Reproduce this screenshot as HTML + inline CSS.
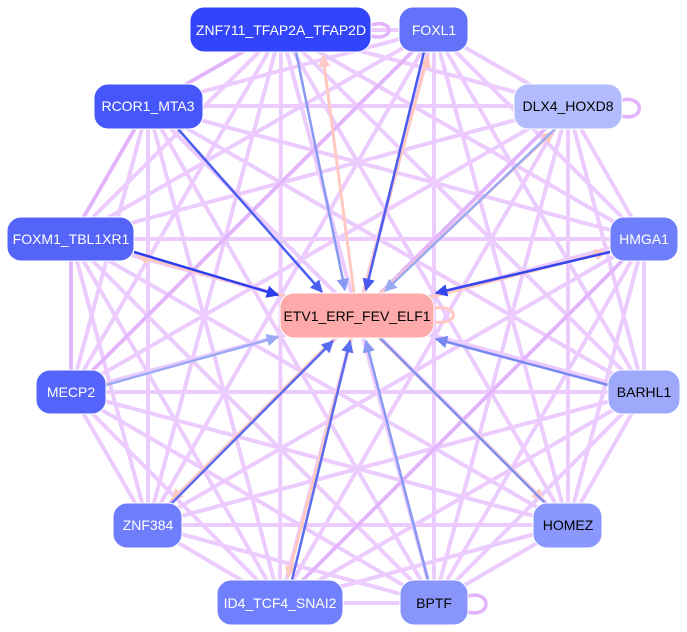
<!DOCTYPE html>
<html><head><meta charset="utf-8"><style>
body{margin:0;background:#fff;width:687px;height:632px;overflow:hidden}
svg{display:block}
text{font-family:"Liberation Sans",sans-serif;font-size:14px;text-anchor:middle;dominant-baseline:central}
</style></head><body>
<svg width="687" height="632" viewBox="0 0 687 632">
<defs>
<marker id="ab" viewBox="0 0 10 10" refX="9" refY="5" markerWidth="5" markerHeight="5" orient="auto" markerUnits="strokeWidth"><path d="M0 0L10 5L0 10z" fill="context-stroke"/></marker>
<marker id="ap" viewBox="0 0 10 10" refX="9" refY="5" markerWidth="4" markerHeight="4" orient="auto" markerUnits="strokeWidth"><path d="M0 0L10 5L0 10z" fill="#ffc8c0"/></marker>
</defs>
<g stroke="#eccbff" stroke-width="4" fill="none" stroke-linecap="round">
<line x1="281" y1="30" x2="434" y2="30"/><line x1="281" y1="30" x2="148" y2="106"/><line x1="281" y1="30" x2="568" y2="106"/><line x1="281" y1="30" x2="71" y2="239"/><line x1="281" y1="30" x2="644" y2="239"/><line x1="281" y1="30" x2="71" y2="392"/><line x1="281" y1="30" x2="644" y2="392"/><line x1="281" y1="30" x2="148" y2="525"/><line x1="281" y1="30" x2="568" y2="525"/><line x1="281" y1="30" x2="280" y2="603"/><line x1="281" y1="30" x2="434" y2="603"/>
<line x1="434" y1="30" x2="148" y2="106"/><line x1="434" y1="30" x2="568" y2="106"/><line x1="434" y1="30" x2="71" y2="239"/><line x1="434" y1="30" x2="644" y2="239"/><line x1="434" y1="30" x2="71" y2="392"/><line x1="434" y1="30" x2="644" y2="392"/><line x1="434" y1="30" x2="148" y2="525"/><line x1="434" y1="30" x2="568" y2="525"/><line x1="434" y1="30" x2="280" y2="603"/><line x1="434" y1="30" x2="434" y2="603"/>
<line x1="148" y1="106" x2="568" y2="106"/><line x1="148" y1="106" x2="71" y2="239"/><line x1="148" y1="106" x2="644" y2="239"/><line x1="148" y1="106" x2="71" y2="392"/><line x1="148" y1="106" x2="644" y2="392"/><line x1="148" y1="106" x2="148" y2="525"/><line x1="148" y1="106" x2="568" y2="525"/><line x1="148" y1="106" x2="280" y2="603"/><line x1="148" y1="106" x2="434" y2="603"/>
<line x1="568" y1="106" x2="71" y2="239"/><line x1="568" y1="106" x2="644" y2="239"/><line x1="568" y1="106" x2="71" y2="392"/><line x1="568" y1="106" x2="644" y2="392"/><line x1="568" y1="106" x2="148" y2="525"/><line x1="568" y1="106" x2="568" y2="525"/><line x1="568" y1="106" x2="280" y2="603"/><line x1="568" y1="106" x2="434" y2="603"/>
<line x1="71" y1="239" x2="644" y2="239"/><line x1="71" y1="239" x2="71" y2="392"/><line x1="71" y1="239" x2="644" y2="392"/><line x1="71" y1="239" x2="148" y2="525"/><line x1="71" y1="239" x2="568" y2="525"/><line x1="71" y1="239" x2="280" y2="603"/><line x1="71" y1="239" x2="434" y2="603"/>
<line x1="644" y1="239" x2="71" y2="392"/><line x1="644" y1="239" x2="644" y2="392"/><line x1="644" y1="239" x2="148" y2="525"/><line x1="644" y1="239" x2="568" y2="525"/><line x1="644" y1="239" x2="280" y2="603"/><line x1="644" y1="239" x2="434" y2="603"/>
<line x1="71" y1="392" x2="644" y2="392"/><line x1="71" y1="392" x2="148" y2="525"/><line x1="71" y1="392" x2="568" y2="525"/><line x1="71" y1="392" x2="280" y2="603"/><line x1="71" y1="392" x2="434" y2="603"/>
<line x1="644" y1="392" x2="148" y2="525"/><line x1="644" y1="392" x2="568" y2="525"/><line x1="644" y1="392" x2="280" y2="603"/><line x1="644" y1="392" x2="434" y2="603"/>
<line x1="148" y1="525" x2="568" y2="525"/><line x1="148" y1="525" x2="280" y2="603"/><line x1="148" y1="525" x2="434" y2="603"/>
<line x1="568" y1="525" x2="280" y2="603"/><line x1="568" y1="525" x2="434" y2="603"/>
<line x1="280" y1="603" x2="434" y2="603"/>
</g>
<g stroke="#e2b4fb" stroke-width="3.5" fill="none">
<line x1="148" y1="106" x2="71" y2="239"/><line x1="71" y1="239" x2="71" y2="392"/><line x1="434" y1="30" x2="71" y2="392"/><line x1="568" y1="106" x2="148" y2="525"/><line x1="644" y1="239" x2="280" y2="603"/><line x1="281" y1="30" x2="148" y2="106"/>
<path d="M371 25 C395 18 395 42 371 36"/><path d="M622 100 C645 95 645 122 622 116"/><path d="M468 596 C492 590 492 618 468 612"/>
</g>
<g stroke="#ffc8c0" stroke-width="3" fill="none">
<line x1="357" y1="316" x2="323" y2="56" marker-end="url(#ap)"/><line x1="357" y1="316" x2="428" y2="56" marker-end="url(#ap)"/><line x1="357" y1="316" x2="138" y2="256" marker-end="url(#ap)"/><line x1="357" y1="316" x2="172" y2="500" marker-end="url(#ap)"/><line x1="357" y1="316" x2="288" y2="577" marker-end="url(#ap)"/><line x1="357" y1="316" x2="543" y2="500" marker-end="url(#ap)"/><line x1="357" y1="316" x2="553" y2="132" marker-end="url(#ap)"/><line x1="357" y1="316" x2="606" y2="252" marker-end="url(#ap)"/>
<path d="M434 308 C460 305 460 325 434 322"/>
</g>
<g stroke-width="2.5" fill="none" marker-end="url(#ab)">
<line x1="178" y1="129" x2="322" y2="292" stroke="#4a5df0"/>
<line x1="296" y1="52" x2="345" y2="290" stroke="#8899f2"/>
<line x1="424" y1="52" x2="366" y2="290" stroke="#4a5cf0"/>
<line x1="555" y1="129" x2="385" y2="291" stroke="#99aaf4"/>
<line x1="134" y1="252" x2="278" y2="295" stroke="#2a3ef0"/>
<line x1="610" y1="252" x2="436" y2="293" stroke="#3446ee"/>
<line x1="106" y1="385" x2="278" y2="337" stroke="#9aaaf5"/>
<line x1="608" y1="385" x2="436" y2="339" stroke="#7788f2"/>
<line x1="172" y1="503" x2="333" y2="341" stroke="#5a6cf0"/>
<line x1="292" y1="580" x2="350" y2="341" stroke="#5a6cf0"/>
<line x1="428" y1="580" x2="366" y2="341" stroke="#8899f2"/>
</g>
<line x1="545" y1="503" x2="380" y2="338" stroke="#8090f0" stroke-width="2.5"/>
<g stroke="#fff" stroke-width="1">
<rect x="190" y="7" width="181" height="45" rx="14" fill="#3345fb"/>
<rect x="399" y="7" width="69" height="45" rx="14" fill="#6272f9"/>
<rect x="94" y="84" width="109" height="45" rx="14" fill="#4556fb"/>
<rect x="514" y="84" width="108" height="45" rx="14" fill="#b2bbfd"/>
<rect x="7" y="217" width="127" height="44" rx="14" fill="#5464f9"/>
<rect x="610" y="217" width="68" height="44" rx="14" fill="#6f7efa"/>
<rect x="280" y="293" width="154" height="45" rx="14" fill="#ffaaaa"/>
<rect x="36" y="370" width="70" height="44" rx="14" fill="#5564fa"/>
<rect x="608" y="370" width="72" height="44" rx="14" fill="#9fa9fc"/>
<rect x="113" y="503" width="69" height="45" rx="14" fill="#6e7dfb"/>
<rect x="533" y="503" width="69" height="45" rx="14" fill="#8a98fd"/>
<rect x="217" y="580" width="126" height="45" rx="14" fill="#7080fc"/>
<rect x="400" y="580" width="68" height="45" rx="14" fill="#8896fc"/>
</g>
<g fill="#fff">
<text x="281" y="30">ZNF711_TFAP2A_TFAP2D</text>
<text x="434" y="30">FOXL1</text>
<text x="148" y="106">RCOR1_MTA3</text>
<text x="71" y="239">FOXM1_TBL1XR1</text>
<text x="644" y="239">HMGA1</text>
<text x="71" y="392">MECP2</text>
<text x="148" y="525">ZNF384</text>
<text x="280" y="603">ID4_TCF4_SNAI2</text>
</g>
<g fill="#000">
<text x="568" y="106">DLX4_HOXD8</text>
<text x="357" y="316">ETV1_ERF_FEV_ELF1</text>
<text x="644" y="392">BARHL1</text>
<text x="568" y="525">HOMEZ</text>
<text x="434" y="603">BPTF</text>
</g>
</svg>
</body></html>
